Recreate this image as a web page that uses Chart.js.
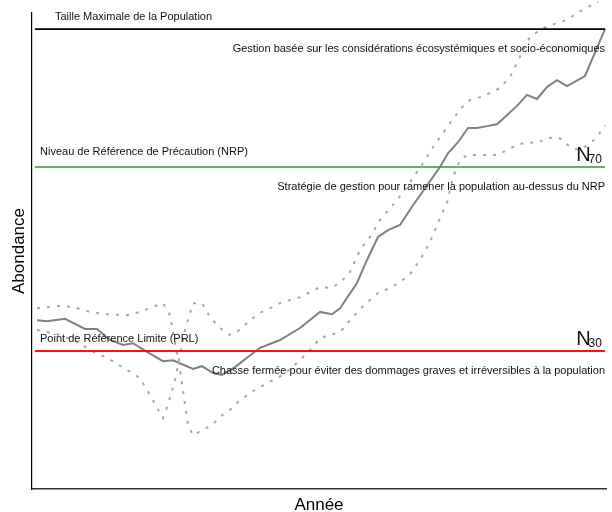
<!DOCTYPE html>
<html>
<head>
<meta charset="utf-8">
<script src="https://cdn.jsdelivr.net/npm/chart.js@4.4.0/dist/chart.umd.min.js"></script>
<style>
  html, body { margin: 0; padding: 0; background: #fff; }
  #wrap { width: 612px; height: 512px; }
</style>
</head>
<body>
<div id="wrap"><canvas id="chart" width="612" height="512"></canvas></div>
<script>
// Niveaux de référence (en % de la taille maximale)
const refLevels = [100, 70, 30];
const refLabels = [
  'Taille Maximale de la Population',
  'Niveau de Référence de Précaution (NRP)',
  'Point de Référence Limite (PRL)'
];
const strategyLabels = [
  'Gestion basée sur les considérations écosystémiques et socio-économiques',
  'Stratégie de gestion pour ramener la population au-dessus du NRP',
  'Chasse fermée pour éviter des dommages graves et irréversibles à la population'
];
const refSubscripts = ['', '70', '30'];
const refColors = ['#000000', '#2e9a2e', '#ff1010'];

// Abondance moyenne
const meanX = [0.87, 2.61, 5.75, 9.23, 11.32, 13.59, 15.85, 17.6, 20.03, 22.82, 24.56, 28.05, 29.62, 31.53, 33.1,
  35.37, 37.63, 39.72, 43.21, 46.69, 50.17, 52.26, 53.66, 56.62, 58.36, 60.28, 62.02, 64.11, 66.38, 71.08,
  72.47, 74.22, 75.96, 77.53, 79.27, 81.01, 82.4, 84.49, 86.24, 87.98, 89.72, 91.46, 93.21, 96.34, 97.74, 99.83];
const meanY = [36.7, 36.5, 37.0, 34.8, 34.8, 32.4, 31.3, 31.7, 29.8, 27.8, 28.0, 26.1, 26.7, 25.2, 24.8,
  26.5, 28.7, 30.7, 32.4, 35.0, 38.5, 38.0, 39.3, 44.8, 49.8, 54.8, 56.3, 57.4, 61.7, 70.0,
  73.0, 75.4, 78.5, 78.5, 78.9, 79.3, 80.9, 83.3, 85.7, 84.8, 87.4, 88.9, 87.6, 89.8, 93.9, 100.0];

// Enveloppe 1 (pointillés, commence en haut)
const bandAX = [0.87, 4.88, 7.14, 10.1, 13.07, 16.55, 18.82, 21.08, 22.82, 24.04, 25.78, 27.18, 28.05, 29.62, 31.36,
  32.75, 34.49, 35.89, 37.98, 40.94, 43.73, 46.69, 48.95, 50.17, 51.92, 53.66, 55.4, 57.67, 60.28, 62.37,
  64.11, 65.85, 67.6, 69.34, 71.08, 72.3, 73.34, 74.56, 75.78, 78.57, 81.01, 82.75, 84.49, 86.24, 87.98,
  89.72, 91.46, 92.51, 93.73, 95.47, 97.21, 98.43, 99.83];
const bandAY = [39.3, 39.8, 39.6, 38.5, 38.0, 37.8, 38.5, 39.6, 40.4, 37.8, 25.9, 13.9, 11.7, 12.8, 13.9,
  15.7, 17.2, 18.9, 20.9, 23.0, 24.8, 28.0, 30.9, 32.8, 33.5, 34.1, 36.7, 39.8, 42.6, 43.7,
  45.0, 46.7, 49.8, 53.7, 58.9, 62.2, 67.8, 71.5, 72.6, 72.6, 72.6, 73.7, 74.8, 75.4, 75.2,
  76.3, 76.5, 75.9, 74.3, 73.7, 75.2, 76.5, 79.1];

// Enveloppe 2 (pointillés, commence en bas)
const bandBX = [0.87, 4.88, 8.36, 10.1, 13.07, 16.55, 18.82, 20.03, 21.08, 22.3, 22.82, 23.69, 24.91, 26.66, 28.05,
  29.62, 31.01, 32.75, 34.49, 36.24, 37.98, 39.72, 41.46, 43.21, 44.95, 46.69, 48.43, 50.17, 51.92, 53.66,
  55.4, 57.14, 58.89, 60.63, 63.59, 65.33, 67.07, 68.47, 69.86, 71.6, 73.17, 74.91, 76.31, 78.05, 79.79,
  81.53, 83.28, 84.49, 85.54, 86.76, 89.02, 91.46, 93.21, 94.95, 96.86, 98.61];
const bandBY = [34.6, 33.5, 31.7, 30.2, 28.5, 25.9, 24.1, 21.5, 19.3, 16.5, 15.4, 18.3, 23.7, 34.6, 40.4,
  40.4, 37.4, 35.0, 33.5, 34.6, 36.7, 38.3, 39.3, 40.4, 41.1, 41.7, 42.8, 43.9, 43.7, 44.8,
  47.2, 52.0, 54.8, 58.5, 62.8, 65.7, 68.9, 71.5, 74.3, 77.4, 80.2, 83.0, 84.6, 85.2, 86.1,
  87.2, 89.6, 92.6, 95.4, 98.3, 100.2, 101.3, 102.0, 103.5, 104.8, 105.9];

const lineStart = 0.5;
const lineEnd = 99.83;

const toPoints = (xs, ys) => xs.map((v, i) => ({ x: v, y: ys[i] }));
const FONT = '"Liberation Sans", Arial, sans-serif';

const refDatasets = refLevels.map((lvl, i) => ({
  data: [{ x: lineStart, y: lvl }, { x: lineEnd, y: lvl }],
  borderColor: refColors[i],
  borderWidth: i === 2 ? 2 : 1.6,
  pointRadius: 0
}));

// Textes sur le graphique
const annotationPlugin = {
  id: 'annotations',
  afterDatasetsDraw(chart) {
    const { ctx, scales: { x, y } } = chart;
    const labelStart = [4.0, 1.4, 1.4];
    const labelAbove = [-12, -15, -12];
    ctx.save();
    ctx.fillStyle = '#111';
    ctx.textBaseline = 'middle';
    ctx.font = '11px ' + FONT;
    refLevels.forEach((lvl, i) => {
      const py = y.getPixelForValue(lvl);
      ctx.textAlign = 'left';
      ctx.fillText(refLabels[i], x.getPixelForValue(labelStart[i]), py + labelAbove[i]);
      ctx.textAlign = 'right';
      ctx.fillText(strategyLabels[i], x.getPixelForValue(lineEnd), py + 20);
    });
    // N70 / N30
    ctx.textBaseline = 'alphabetic';
    ctx.textAlign = 'left';
    refLevels.forEach((lvl, i) => {
      if (!refSubscripts[i]) return;
      const py = y.getPixelForValue(lvl);
      const nx = x.getPixelForValue(94.8);
      ctx.font = '20px ' + FONT;
      ctx.fillText('N', nx, py - 6);
      const w = ctx.measureText('N').width;
      ctx.font = '12px ' + FONT;
      ctx.fillText(refSubscripts[i], nx + w - 2, py - 4);
    });
    ctx.restore();
  }
};

new Chart(document.getElementById('chart'), {
  type: 'line',
  data: {
    datasets: [
      ...refDatasets,
      {
        data: toPoints(bandAX, bandAY),
        borderColor: '#a6a6a6',
        borderWidth: 2,
        borderDash: [3, 7],
        pointRadius: 0,
        clip: false
      },
      {
        data: toPoints(bandBX, bandBY),
        borderColor: '#a6a6a6',
        borderWidth: 2,
        borderDash: [3, 7],
        pointRadius: 0,
        clip: false
      },
      {
        data: toPoints(meanX, meanY),
        borderColor: '#808080',
        borderWidth: 2,
        pointRadius: 0
      }
    ]
  },
  options: {
    responsive: false,
    animation: false,
    devicePixelRatio: 1,
    layout: { padding: { top: 13, right: 6, bottom: 0, left: 0 } },
    plugins: { legend: { display: false }, tooltip: { enabled: false } },
    scales: {
      x: {
        type: 'linear',
        min: 0,
        max: 100,
        ticks: { display: false },
        grid: { display: false, drawTicks: false },
        border: { display: true, color: '#333', width: 1.4 },
        title: {
          display: true,
          text: 'Année',
          color: '#000',
          font: { family: FONT, size: 17, lineHeight: 0.8 },
          padding: { top: 9.4, bottom: 0 }
        }
      },
      y: {
        type: 'linear',
        min: 0,
        max: 103.5,
        ticks: { display: false },
        grid: { display: false, drawTicks: false },
        border: { display: true, color: '#000', width: 1.2 },
        title: {
          display: true,
          text: 'Abondance',
          color: '#000',
          font: { family: FONT, size: 17, lineHeight: 1 },
          padding: { top: 10.5, bottom: 4.5 }
        }
      }
    }
  },
  plugins: [annotationPlugin]
});
</script>
</body>
</html>
